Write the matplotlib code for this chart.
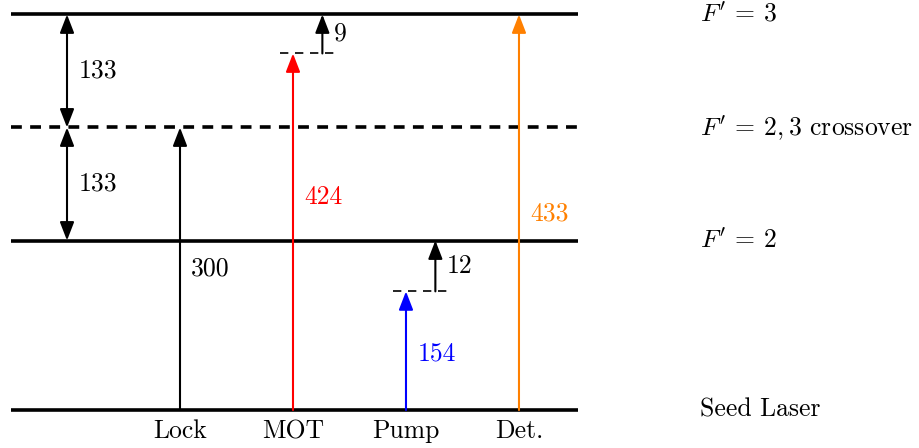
import matplotlib
matplotlib.use("Agg")
import matplotlib.pyplot as plt

plt.rcParams['font.family'] = ['cmr10', 'DejaVu Serif']
plt.rcParams['mathtext.fontset'] = 'cm'
plt.rcParams['axes.unicode_minus'] = False

# schematic level heights (not to scale)
level_names = [r"$F'\,=\:3$", r"$F'\,=\:2, 3$ crossover", r"$F'\,=\:2$", "Seed Laser"]
level_y = [3.5, 2.5, 1.5, 0.0]
level_dashed = [False, True, False, False]

# laser transitions from the seed laser
beam_names = ["Lock", "MOT", "Pump", "Det."]
beam_x = [1, 2, 3, 4]
beam_top = [2.5, 3.155, 1.05, 3.5]
beam_mhz = ["300", "424", "154", "433"]
beam_colors = ["black", "#ff0000", "#0000ff", "#ff8000"]
beam_label_y = [1.25, 1.88, 0.5, 1.74]

# detunings from virtual levels up to the real levels
det_beam = [1, 2]          # MOT, Pump
det_target = [3.5, 1.5]
det_mhz = ["9", "12"]

# level spacings
gap_mhz = ["133", "133"]

fs = 18.5
fig = plt.figure(figsize=(9.2, 4.48), dpi=100)
ax = fig.add_axes([0, 0, 1, 1])
ax.set_xlim(-0.593, 7.549)
ax.set_ylim(-0.336, 3.628)
ax.axis('off')

# levels
for name, y, dashed in zip(level_names, level_y, level_dashed):
    ls = (0, (3.0, 2.3)) if dashed else '-'
    ax.plot([-0.5, 4.52], [y, y], color='black', lw=2.6, ls=ls, solid_capstyle='butt')
    ax.text(5.6, y, name, fontsize=fs, va='center', ha='left')

arrow_kw = dict(arrowstyle='-|>,head_length=0.62,head_width=0.24', lw=1.5,
                mutation_scale=18, shrinkA=0, shrinkB=0)

# beams
for name, x, top, mhz, c, ly in zip(beam_names, beam_x, beam_top, beam_mhz, beam_colors, beam_label_y):
    ax.annotate("", xy=(x, top), xytext=(x, 0), arrowprops=dict(color=c, **arrow_kw))
    ax.text(x + 0.1, ly, mhz, color=c, fontsize=fs, va='center', ha='left')
    ax.text(x, -0.19, name, fontsize=fs, va='center', ha='center')

# virtual levels and detuning arrows
for i, tgt, mhz in zip(det_beam, det_target, det_mhz):
    x = beam_x[i]
    y0 = beam_top[i]
    ax.plot([x - 0.115, x + 0.37], [y0, y0], color='black', lw=1.2,
            ls=(0, (5, 4)), solid_capstyle='butt')
    ax.annotate("", xy=(x + 0.26, tgt), xytext=(x + 0.26, y0),
                arrowprops=dict(color='black', **arrow_kw))
    ax.text(x + 0.36, (y0 + tgt) / 2, mhz, fontsize=fs, va='center', ha='left')

# spacing double arrows
dbl_kw = dict(arrow_kw)
dbl_kw['arrowstyle'] = '<|-|>,head_length=0.62,head_width=0.24'
for (hi, lo), mhz in zip([(level_y[0], level_y[1]), (level_y[1], level_y[2])], gap_mhz):
    ax.annotate("", xy=(0, hi), xytext=(0, lo), arrowprops=dict(color='black', **dbl_kw))
    ax.text(0.1, (hi + lo) / 2, mhz, fontsize=fs, va='center', ha='left')

fig.savefig("out.png", dpi=100)
